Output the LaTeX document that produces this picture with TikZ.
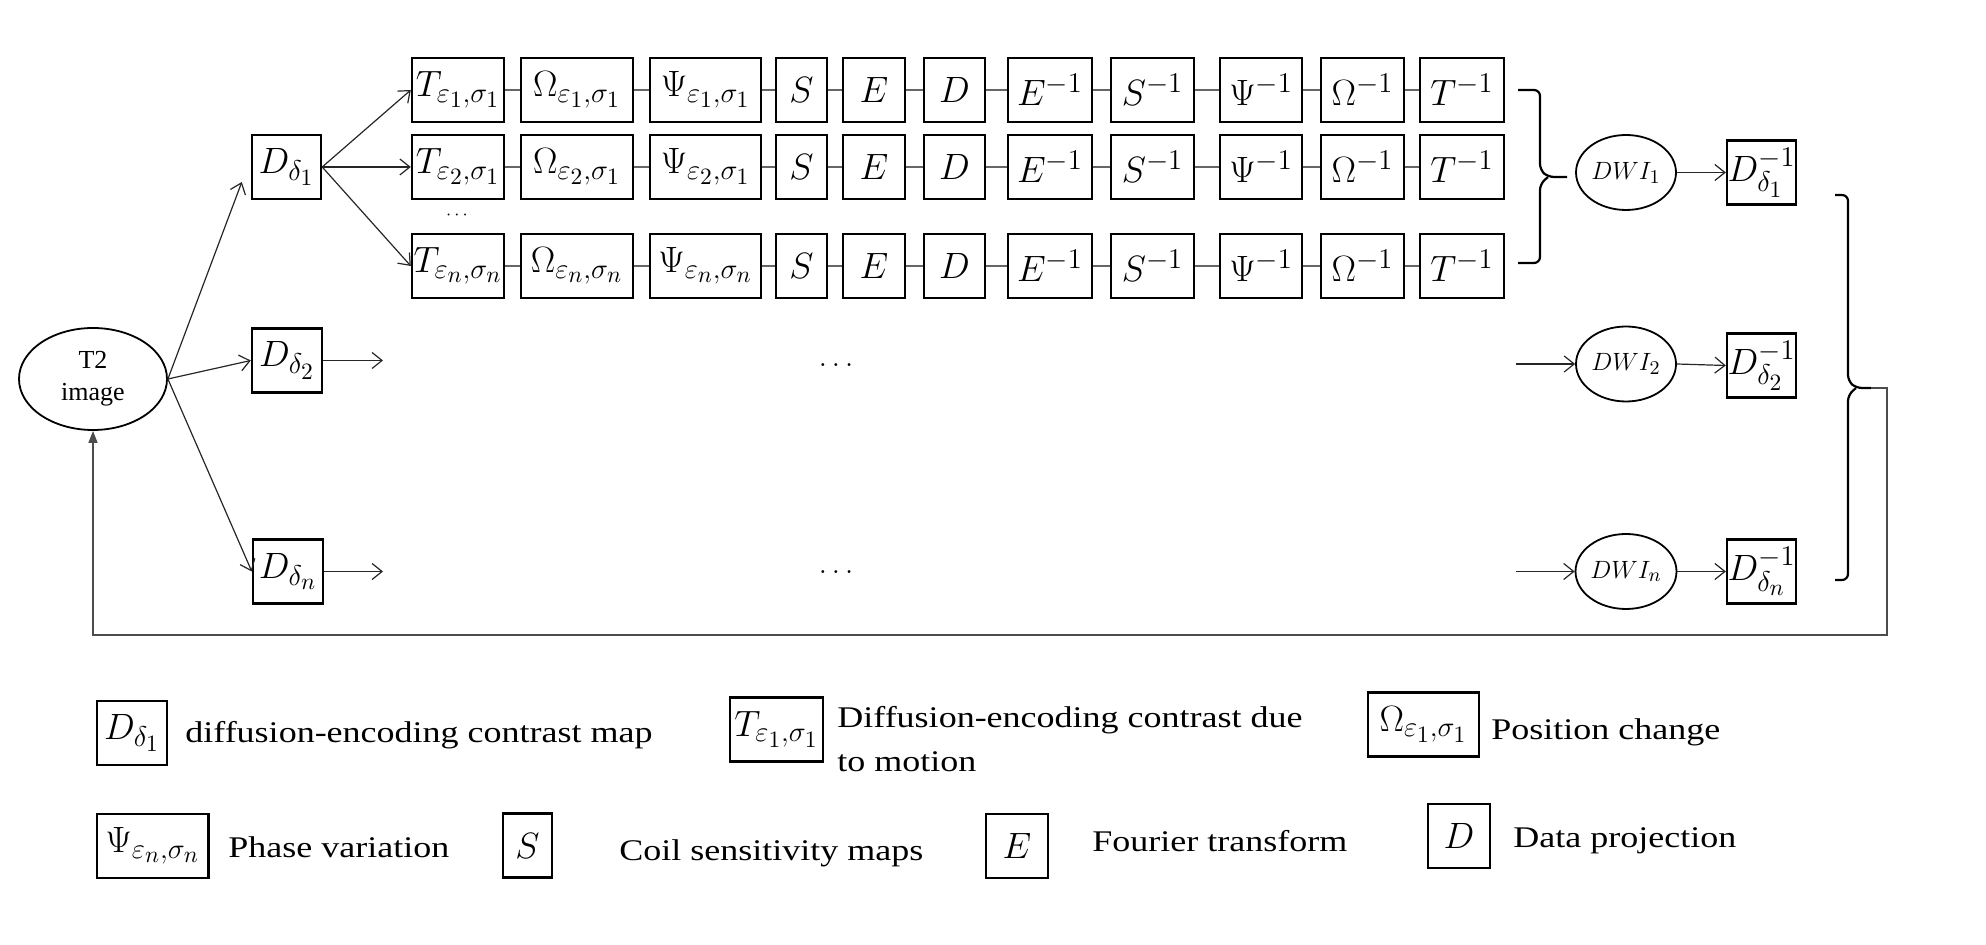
\RequirePackage{fix-cm}
\documentclass[tikz,border=0pt]{standalone}
\usepackage[no-math]{fontspec}
\usetikzlibrary{arrows.meta,shapes.geometric,calc}
\newfontfamily\lblfont[FakeStretch=1.2]{Liberation Serif}
\newfontfamily\plainfont{Liberation Serif}
\renewcommand{\defaultscriptratio}{.78}
\renewcommand{\defaultscriptscriptratio}{.64}
\tikzset{
 op/.style={draw, line width=1.2pt, minimum height=32pt, inner sep=0pt, font=\fontsize{18.3}{22}\selectfont},
 link/.style={draw=black!60, line width=0.8pt},
 arr/.style={draw=black!85, line width=0.6pt, -{Straight Barb[length=5pt,width=8pt]}},
 oval/.style={ellipse, draw, line width=0.9pt, inner sep=0pt},
 brc/.style={draw, line width=1.1pt, rounded corners=3pt},
 fbline/.style={draw=black!70, line width=0.7pt},
 lbl/.style={font=\lblfont\fontsize{15}{21.75}\selectfont, inner sep=0pt},
}
\begin{document}
\begin{tikzpicture}[x=0.5pt,y=-0.5pt]
\path[use as bounding box] (0,0) rectangle (1986,945);

% source
\node[oval, minimum width=74pt, minimum height=51pt, align=center, font=\plainfont\fontsize{13}{16}\selectfont] (t2) at (93,379) {T2\\image};

% diffusion contrast maps
\node[op, minimum width=34.5pt] (d1) at (286.5,167) {$D_{\delta_1}$};
\node[op, minimum width=35pt] (d2) at (287,360.5) {$D_{\delta_2}$};
\node[op, minimum width=35pt] (dn) at (288,571.5) {$D_{\delta_n}$};

% operator rows
\foreach \rw/\ry/\sb in {1/90/{\varepsilon_1,\sigma_1},2/167/{\varepsilon_2,\sigma_1},3/266/{\varepsilon_n,\sigma_n}}{
 \node[op,minimum width=46pt] (r\rw c1) at (458,\ry) {$T_{\sb}$};
 \node[op,minimum width=56pt] (r\rw c2) at (577,\ry) {$\Omega_{\sb}$};
 \node[op,minimum width=55.5pt] (r\rw c3) at (705.5,\ry) {$\Psi_{\sb}$};
 \node[op,minimum width=25.5pt] (r\rw c4) at (801.5,\ry) {$S$};
 \node[op,minimum width=31pt] (r\rw c5) at (874,\ry) {$E$};
 \node[op,minimum width=30.5pt] (r\rw c6) at (954.5,\ry) {$D$};
 \node[op,minimum width=42pt] (r\rw c7) at (1050,\ry) {$E^{-1}$};
 \node[op,minimum width=41.5pt] (r\rw c8) at (1152.5,\ry) {$S^{-1}$};
 \node[op,minimum width=41pt] (r\rw c9) at (1261,\ry) {$\Psi^{-1}$};
 \node[op,minimum width=41.5pt] (r\rw c10) at (1362.5,\ry) {$\Omega^{-1}$};
 \node[op,minimum width=42pt] (r\rw c11) at (1462,\ry) {$T^{-1}$};
 \foreach \i [evaluate=\i as \j using int(\i+1)] in {1,...,10}
   \draw[link] (r\rw c\i) -- (r\rw c\j);
 \draw[arr] (d1.east) -- (r\rw c1.west);
}
\node[font=\fontsize{9}{9}\selectfont, anchor=base] (vdots) at (457,220) {$\cdots$};

% arrows from T2 image
\draw[arr] (t2.east) -- ($(d1.west)+(-9,15)$);
\draw[arr] (t2.east) -- (d2.west);
\draw[arr] (t2.east) -- (dn.west);

% rows 2 and n (elided)
\coordinate (o2) at (383,360.5);
\coordinate (on) at (383,571.5);
\draw[arr] (d2.east) -- (o2);
\draw[arr] (dn.east) -- (on);
\node[font=\fontsize{15}{15}\selectfont, anchor=base] (m2) at (836,367) {$\ldots$};
\node[font=\fontsize{15}{15}\selectfont, anchor=base] (mn) at (836,574) {$\ldots$};

% DWI nodes
\node[oval, minimum width=50pt, minimum height=37.5pt, font=\fontsize{12.5}{14}\selectfont] (w1) at (1626,172.5) {$DWI_1$};
\node[oval, minimum width=50pt, minimum height=37.5pt, font=\fontsize{12.5}{14}\selectfont] (w2) at (1626,364) {$DWI_2$};
\node[oval, minimum width=50pt, minimum height=37.5pt, font=\fontsize{12.5}{14}\selectfont] (wn) at (1626,571.5) {$DWI_n$};
\coordinate (i2) at (1516,364);
\coordinate (in) at (1516,571.5);
\draw[arr] (i2) -- (w2.west);
\draw[arr] (in) -- (wn.west);

% inverse maps
\node[op, minimum width=34.5pt] (v1) at (1761.5,172.5) {$D_{\delta_1}^{-1}$};
\node[op, minimum width=34.5pt] (v2) at (1761.5,365.5) {$D_{\delta_2}^{-1}$};
\node[op, minimum width=34.5pt] (vn) at (1761.5,571.5) {$D_{\delta_n}^{-1}$};
\draw[arr] (w1.east) -- (v1.west);
\draw[arr] (w2.east) -- (v2.west);
\draw[arr] (wn.east) -- (vn.west);

% brace joining the rows
\draw[brc] (1518,90) -- (1540,90) -- (1540,170) -- (1548,177) -- (1567,177);
\draw[brc] (1548,177) -- (1540,184) -- (1540,263) -- (1518,263);

% big brace and feedback
\draw[brc] (1835,195) -- (1848,195) -- (1848,381) -- (1856,388) -- (1871,388);
\draw[brc] (1856,388) -- (1848,395) -- (1848,580) -- (1835,580);
\coordinate (fbs) at (1871,388);
\draw[fbline, -{Triangle[length=6pt,width=4.5pt]}] (fbs) -- (1887,388) -- (1887,635) -| (t2.south);

% legend
\node[op, minimum width=35pt] (lg1) at (132,733) {$D_{\delta_1}$};
\node[lbl, anchor=base west] (lt1) at (185,742) {diffusion-encoding contrast map};
\node[op, minimum width=46.5pt] (lg2) at (776.5,729.5) {$T_{\varepsilon_1,\sigma_1}$};
\node[lbl, anchor=north west, align=left] (lt2) at (837,706) {Diffusion-encoding contrast due\\to motion};
\node[op, minimum width=55.5pt] (lg3) at (1423.5,724.5) {$\Omega_{\varepsilon_1,\sigma_1}$};
\node[lbl, anchor=base west] (lt3) at (1491,740) {Position change};
\node[op, minimum width=55.75pt] (lg4) at (152.75,846) {$\Psi_{\varepsilon_n,\sigma_n}$};
\node[lbl, anchor=base west] (lt4) at (228,857) {Phase variation};
\node[op, minimum width=24.5pt] (lg5) at (527.5,845.5) {$S$};
\node[lbl, anchor=base west] (lt5) at (619,860) {Coil sensitivity maps};
\node[op, minimum width=31pt] (lg6) at (1017,846) {$E$};
\node[lbl, anchor=base west] (lt6) at (1092,851) {Fourier transform};
\node[op, minimum width=31.25pt] (lg7) at (1459,836) {$D$};
\node[lbl, anchor=base west] (lt7) at (1513,847) {Data projection};
\end{tikzpicture}
\end{document}
